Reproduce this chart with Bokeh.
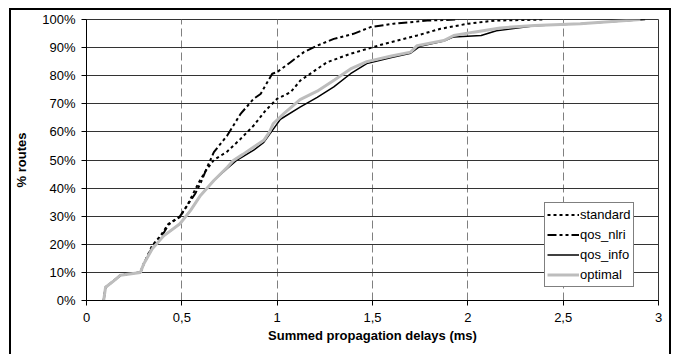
from bokeh.plotting import figure
from bokeh.models import (FixedTicker, PrintfTickFormatter, Legend, LegendItem, Range1d)
from bokeh.embed import file_html
from bokeh.resources import INLINE

# ---- data ----
x_ticks = [0, 0.5, 1, 1.5, 2, 2.5, 3]
x_tick_labels = ["0", "0,5", "1", "1,5", "2", "2,5", "3"]
y_ticks = [0, 10, 20, 30, 40, 50, 60, 70, 80, 90, 100]

standard_x = [0.09, 0.09, 0.10, 0.143, 0.178, 0.283, 0.30, 0.345, 0.388, 0.43, 0.49, 0.528, 0.589,
              0.624, 0.668, 0.738, 0.808, 0.877, 0.939, 1.0, 1.07, 1.122, 1.21, 1.262, 1.385,
              1.56, 1.734, 1.857, 2.0, 2.14, 2.4]
standard_y = [0, 0, 4.7, 7, 9, 10, 13, 19.6, 23, 27.3, 29.7, 33.8, 42,
              46, 50, 53, 57.5, 62.3, 67.6, 71.8, 74.1, 78.3, 82.4, 84.8, 87.8,
              91.3, 94.3, 96.7, 98.5, 99.6, 100]

qos_nlri_x = [0.09, 0.09, 0.10, 0.143, 0.178, 0.283, 0.30, 0.345, 0.40, 0.43, 0.49, 0.53, 0.57,
              0.60, 0.63, 0.668, 0.738, 0.808, 0.877, 0.913, 0.974, 1.0, 1.07, 1.14, 1.21,
              1.297, 1.40, 1.49, 1.61, 1.787, 1.95]
qos_nlri_y = [0, 0, 4.7, 7, 9, 10, 13, 19, 23.5, 27, 30, 34, 38,
              42, 47, 52.8, 58.7, 66.4, 71.8, 73.5, 80.7, 81.3, 84.8, 88.4, 90.7,
              93.1, 94.9, 97.3, 98.5, 99.6, 100]

qos_info_x = [0.09, 0.09, 0.10, 0.143, 0.178, 0.283, 0.30, 0.345, 0.405, 0.49, 0.545, 0.598,
              0.668, 0.738, 0.79, 0.877, 0.93, 0.98, 1.017, 1.12, 1.21, 1.297, 1.385, 1.47,
              1.6, 1.70, 1.75, 1.874, 1.926, 2.07, 2.15, 2.35, 2.59, 2.93]
qos_info_y = [0, 0, 4.7, 7, 9, 10, 13, 18.4, 23, 27.3, 32, 37.4,
              42.7, 47, 50, 53.5, 56.3, 61, 64.5, 68.8, 72.3, 76, 80.7, 84.3,
              86.5, 88, 90.5, 92.3, 93.8, 94.3, 96, 97.8, 98.5, 100]

optimal_x = [0.09, 0.09, 0.10, 0.143, 0.178, 0.283, 0.30, 0.345, 0.405, 0.49, 0.545, 0.598,
             0.668, 0.738, 0.77, 0.82, 0.877, 0.93, 0.96, 0.98, 1.035, 1.12, 1.21, 1.3, 1.385,
             1.47, 1.6, 1.70, 1.734, 1.874, 1.926, 2.03, 2.17, 2.35, 2.59, 2.905]
optimal_y = [0, 0, 4.7, 7, 9, 10, 13, 18.4, 23, 27.3, 32, 37.4,
             42.7, 47.4, 49.8, 52, 54.6, 57, 60, 63, 66.5, 71.5, 74.5, 78.5, 82.4,
             85, 87, 88.4, 90.7, 92.5, 94.3, 95.5, 97, 97.9, 98.5, 100]

series_names = ["standard", "qos_nlri", "qos_info", "optimal"]

FONT = "Liberation Sans"

p = figure(width=672, height=354, output_backend="svg", toolbar_location=None,
           x_range=Range1d(0, 3), y_range=Range1d(0, 100),
           min_border_left=86, min_border_right=14, min_border_top=19, min_border_bottom=54)

p.background_fill_color = "white"
p.border_fill_color = None
p.outline_line_color = "#333333"
p.outline_line_width = 1
p.styles = {"box-shadow": "inset 9px 0 0 0 #ffffff, inset 0 8px 0 0 #ffffff, "
                          "inset -1px 0 0 0 #ffffff, "
                          "inset 11px 0 0 0 #000000, inset -3px 0 0 0 #000000, "
                          "inset 0 10px 0 0 #000000"}

# grids
p.xgrid.ticker = FixedTicker(ticks=x_ticks)
p.xgrid.grid_line_color = "#808080"
p.xgrid.grid_line_dash = "8 4"
p.xgrid.grid_line_width = 1
p.ygrid.ticker = FixedTicker(ticks=y_ticks)
p.ygrid.grid_line_color = "#333333"
p.ygrid.grid_line_width = 1

# axes
p.xaxis.ticker = FixedTicker(ticks=x_ticks)
p.xaxis.major_label_overrides = {t: lab for t, lab in zip(x_ticks, x_tick_labels)}
p.yaxis.ticker = FixedTicker(ticks=y_ticks)
p.yaxis.formatter = PrintfTickFormatter(format="%d%%")
for ax in (p.xaxis, p.yaxis):
    ax.axis_line_color = "black"
    ax.major_tick_line_color = "black"
    ax.major_tick_out = 5
    ax.major_tick_in = 0
    ax.minor_tick_line_color = None
    ax.major_label_text_font = FONT
    ax.major_label_text_font_size = "13px"
    ax.major_label_text_color = "black"
    ax.axis_label_text_font = FONT
    ax.axis_label_text_font_size = "13px"
    ax.axis_label_text_font_style = "bold"
    ax.axis_label_text_color = "black"
p.xaxis.axis_label = "Summed propagation delays (ms)"
p.yaxis.axis_label = "% routes"
p.xaxis.major_label_standoff = 7
p.xaxis.axis_label_standoff = 3
p.yaxis.major_label_standoff = 6
p.yaxis.axis_label_standoff = 10

# draw in series order (optimal last, on top)
r_std = p.line(standard_x, standard_y, line_color="black", line_width=2, line_dash="3 3")
r_nlri = p.line(qos_nlri_x, qos_nlri_y, line_color="black", line_width=2, line_dash="9 3 3 3 3 3")
r_info = p.line(qos_info_x, qos_info_y, line_color="black", line_width=1.5)
r_opt = p.line(optimal_x, optimal_y, line_color="#bdbdbd", line_width=3)

legend = Legend(items=[LegendItem(label=series_names[0], renderers=[r_std]),
                       LegendItem(label=series_names[1], renderers=[r_nlri]),
                       LegendItem(label=series_names[2], renderers=[r_info]),
                       LegendItem(label=series_names[3], renderers=[r_opt])],
                location=(458, 13))
legend.border_line_color = "black"
legend.border_line_width = 1
legend.background_fill_color = "white"
legend.background_fill_alpha = 1
legend.padding = 2
legend.spacing = 1
legend.margin = 0
legend.glyph_width = 32
legend.glyph_height = 19
legend.label_height = 19
legend.label_standoff = 1
legend.label_text_font = FONT
legend.label_text_font_size = "13px"
legend.label_text_color = "black"
p.add_layout(legend, "center")

open("out.html", "w").write(file_html(p, INLINE))
